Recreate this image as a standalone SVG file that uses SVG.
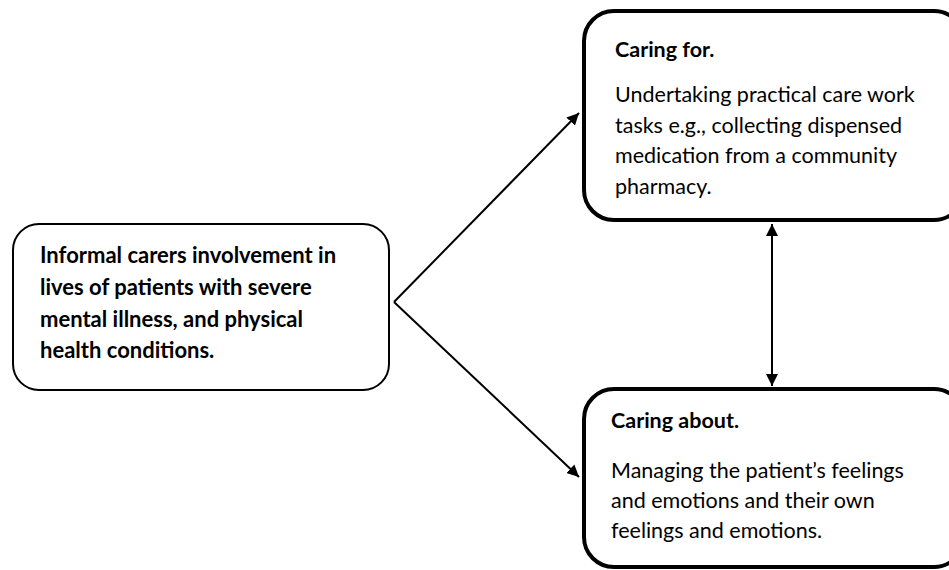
<svg xmlns="http://www.w3.org/2000/svg" width="949" height="570" viewBox="0 0 949 570">
<defs>
<marker id="ah" viewBox="0 0 10 10" refX="10" refY="5" markerWidth="12" markerHeight="12" markerUnits="userSpaceOnUse" orient="auto-start-reverse">
<path d="M0,0 L10,5 L0,10 z" fill="#000"/>
</marker>
<style>
.t{font-family:"Lato","Liberation Sans",sans-serif;font-size:21.5px;fill:#000}
.b{font-weight:bold}
.l{font-size:22px}
.box{fill:#fff;stroke:#000}
.c{stroke:#000;stroke-width:2;fill:none}
</style>
</defs>
<rect width="949" height="570" fill="#fff"/>
<g id="connectors">
<line class="c" x1="394" y1="302" x2="579" y2="113" marker-end="url(#ah)"/>
<line class="c" x1="394" y1="302" x2="579" y2="477" marker-end="url(#ah)"/>
<line class="c" x1="772" y1="224" x2="772" y2="386" marker-start="url(#ah)" marker-end="url(#ah)"/>
</g>
<g id="source">
<rect class="box" x="13" y="224" width="376" height="166" rx="26" stroke-width="2"/>
<text class="t b l" x="40" y="263">Informal carers involvement in</text>
<text class="t b l" x="40" y="295">lives of patients with severe</text>
<text class="t b l" x="40" y="327">mental illness, and physical</text>
<text class="t b l" x="40" y="358">health conditions.</text>
</g>
<g id="caring-for">
<rect class="box" x="584" y="11" width="380" height="209" rx="30" stroke-width="4"/>
<text class="t b" x="615" y="57">Caring for.</text>
<text class="t" x="615" y="102">Undertaking practical care work</text>
<text class="t" x="615" y="133">tasks e.g., collecting dispensed</text>
<text class="t" x="615" y="163">medication from a community</text>
<text class="t" x="615" y="194">pharmacy.</text>
</g>
<g id="caring-about">
<rect class="box" x="584" y="389" width="380" height="178" rx="30" stroke-width="4"/>
<text class="t b" x="611" y="428">Caring about.</text>
<text class="t" x="611" y="478">Managing the patient’s feelings</text>
<text class="t" x="611" y="508">and emotions and their own</text>
<text class="t" x="611" y="538">feelings and emotions.</text>
</g>
</svg>
